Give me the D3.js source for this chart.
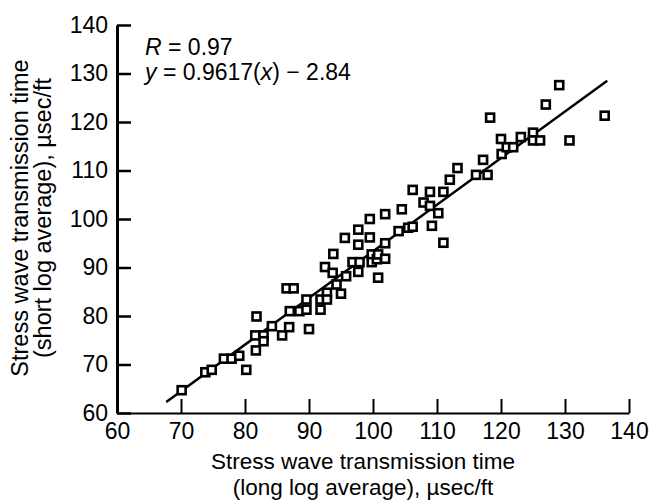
<!DOCTYPE html>
<html>
<head>
<meta charset="utf-8">
<script src="https://cdn.jsdelivr.net/npm/d3@7"></script>
<style>
  body { margin: 0; background: #fff; }
  svg text { font-family: "Liberation Sans", Arial, Helvetica, sans-serif; fill: #000; }
</style>
</head>
<body>
<script>
// long log average (x) vs short log average (y), usec/ft
var longAvg = [70.1, 73.8, 74.8, 76.7, 77.9, 79.1, 80.2, 81.7, 81.8, 81.6,
               82.9, 82.9, 84.2, 85.8, 86.9, 86.5, 87.6, 87.0, 88.5, 89.6,
               89.6, 90.0, 91.8, 91.8, 92.8, 92.8, 92.5, 93.8, 93.7, 94.3,
               95.0, 95.8, 95.6, 96.8, 97.9, 97.7, 97.7, 97.7, 99.8, 99.8,
               100.6, 100.8, 99.5, 99.5, 101.9, 104.5, 104.0, 105.5, 101.9, 100.8,
               101.9, 106.2, 106.2, 107.9, 108.9, 108.9, 110.2, 109.2, 111.0, 111.0,
               112.0, 113.2, 116.1, 117.2, 117.9, 120.1, 120.9, 120.0, 121.9, 118.3,
               129.1, 127.0, 136.2, 130.7, 123.1, 125.0, 125.0, 126.1];
var shortAvg = [64.7, 68.4, 68.9, 71.2, 71.2, 71.8, 68.9, 72.9, 79.9, 76.0,
                76.0, 74.8, 77.9, 76.0, 77.7, 85.7, 85.7, 81.0, 81.0, 81.3,
                83.4, 77.3, 81.3, 83.4, 84.8, 83.4, 90.1, 92.8, 88.9, 86.5,
                84.6, 88.2, 96.1, 91.1, 91.1, 89.1, 94.7, 97.8, 92.7, 91.1,
                91.7, 87.9, 96.2, 100.0, 101.0, 102.0, 97.5, 98.2, 95.0, 92.7,
                91.8, 106.0, 98.4, 103.4, 105.6, 102.7, 101.2, 98.6, 95.1, 105.6,
                108.1, 110.5, 109.1, 112.2, 109.1, 113.4, 114.8, 116.5, 114.8, 120.9,
                127.6, 123.6, 121.3, 116.2, 116.9, 117.8, 116.2, 116.2];
var xTicks = [60, 70, 80, 90, 100, 110, 120, 130, 140];
var yTicks = [60, 70, 80, 90, 100, 110, 120, 130, 140];
var slope = 0.9617, intercept = -2.84;
var fitRange = [67.7, 136.6];

var W = 649, H = 502;
var svg = d3.select("body").append("svg").attr("width", W).attr("height", H);

var x = d3.scaleLinear().domain([60, 140]).range([117, 629]);
var y = d3.scaleLinear().domain([60, 140]).range([413, 25]);

// axes, ticks pointing into the plot
var xAxis = d3.axisBottom(x).tickValues(xTicks).tickSizeInner(-14).tickSizeOuter(0).tickPadding(8);
var yAxis = d3.axisLeft(y).tickValues(yTicks).tickSizeInner(-14).tickSizeOuter(0).tickPadding(9);

var gx = svg.append("g").attr("transform", "translate(0,413)").call(xAxis);
var gy = svg.append("g").attr("transform", "translate(117,0)").call(yAxis);

gx.select(".domain").attr("stroke-width", 2);
gx.selectAll(".tick line").attr("stroke-width", 2);
gy.select(".domain").attr("stroke-width", 3);
gy.selectAll(".tick line").attr("stroke-width", 2.5);
[gx, gy].forEach(function (g) {
  g.selectAll(".tick text").attr("font-size", 23);
  g.attr("font-family", null).attr("font-size", null);
});
gx.selectAll(".tick text").attr("dy", "0.8em");

// fit line
svg.append("line")
  .attr("x1", x(fitRange[0])).attr("y1", y(slope * fitRange[0] + intercept))
  .attr("x2", x(fitRange[1])).attr("y2", y(slope * fitRange[1] + intercept))
  .attr("stroke", "#000").attr("stroke-width", 2.5);

// points
var s = 8;
svg.selectAll("rect.pt")
  .data(d3.range(longAvg.length))
  .enter()
  .append("rect")
  .attr("class", "pt")
  .attr("x", function (i) { return x(longAvg[i]) - s / 2; })
  .attr("y", function (i) { return y(shortAvg[i]) - s / 2; })
  .attr("width", s).attr("height", s)
  .attr("fill", "#fff").attr("stroke", "#000").attr("stroke-width", 2.6);

// annotation
var t1 = svg.append("text").attr("x", 145).attr("y", 55).attr("font-size", 23);
t1.append("tspan").attr("font-style", "italic").text("R");
t1.append("tspan").text(" = 0.97");
var t2 = svg.append("text").attr("x", 145).attr("y", 80).attr("font-size", 23);
t2.append("tspan").attr("font-style", "italic").text("y");
t2.append("tspan").text(" = 0.9617(");
t2.append("tspan").attr("font-style", "italic").text("x");
t2.append("tspan").text(") \u2212 2.84");

// axis titles
svg.append("text").attr("x", 363).attr("y", 469).attr("text-anchor", "middle")
  .attr("font-size", 22.5).text("Stress wave transmission time");
svg.append("text").attr("x", 363).attr("y", 495).attr("text-anchor", "middle")
  .attr("font-size", 22.5).text("(long log average), \u00b5sec/ft");

svg.append("text").attr("transform", "translate(28,218) rotate(-90)").attr("text-anchor", "middle")
  .attr("font-size", 23.5).text("Stress wave transmission time");
svg.append("text").attr("transform", "translate(51,218) rotate(-90)").attr("text-anchor", "middle")
  .attr("font-size", 23.5).text("(short log average), \u00b5sec/ft");
</script>
</body>
</html>
